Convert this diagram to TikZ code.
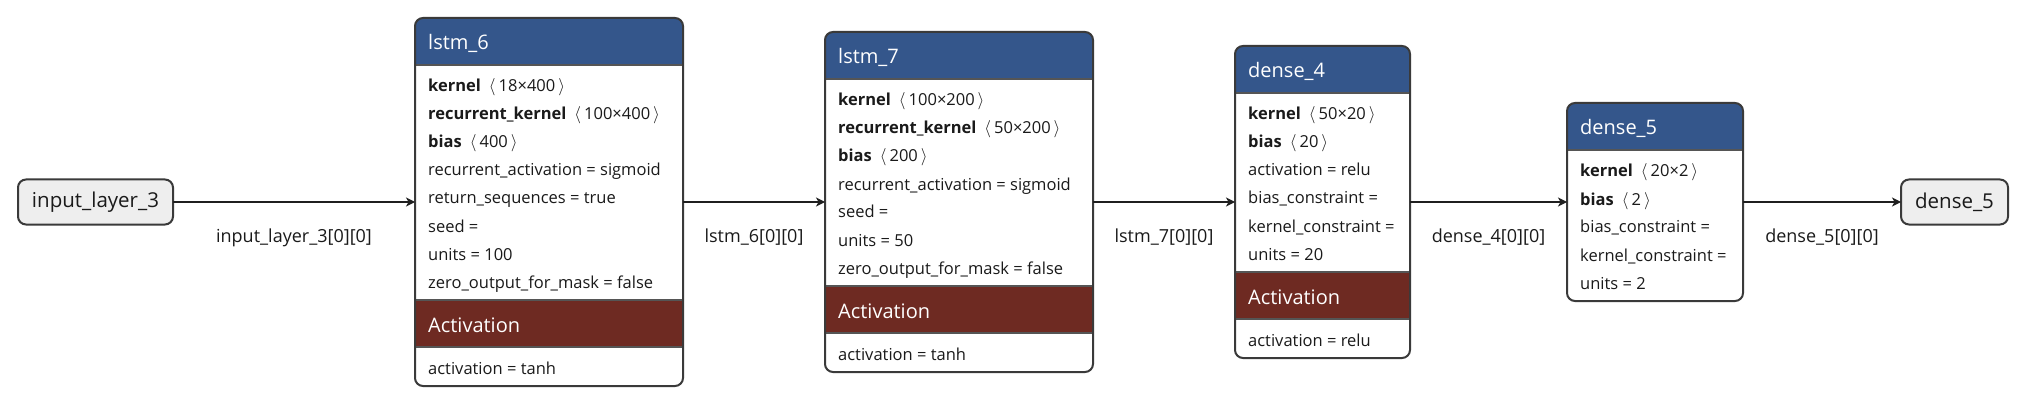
\documentclass[tikz,border=0pt]{standalone}
\usepackage{fontspec}
\setmainfont{Open Sans}
\usetikzlibrary{arrows.meta,calc}
\definecolor{hdrblue}{HTML}{34568B}
\definecolor{actred}{HTML}{6E2A22}
\definecolor{bordergray}{HTML}{3A3A3A}
\definecolor{sepgray}{HTML}{555555}
\definecolor{iofill}{HTML}{EEEEEE}
\definecolor{txt}{HTML}{1A1A1A}
\newcommand\fbody{\fontsize{16.5}{20}\selectfont}
\newcommand\fhead{\fontsize{20}{24}\selectfont}
\newcommand\fedge{\fontsize{18}{22}\selectfont}
\newcommand\fionode{\fontsize{20.5}{24}\selectfont}
\newcommand\shp[1]{\hspace{8pt}$\langle$\hspace{3pt}#1\hspace{3pt}$\rangle$}
\begin{document}
\begin{tikzpicture}[x=1pt,y=-1pt,
  lbox/.style={fill=white, inner sep=0pt, outer sep=0pt, rounded corners=8pt},
  border/.style={draw=bordergray, line width=2pt, rounded corners=8pt},
  sep/.style={draw=sepgray, line width=2pt},
  io/.style={draw=bordergray, line width=2pt, fill=iofill, rounded corners=8pt, inner sep=0pt, outer sep=0pt, minimum height=45pt, font=\fionode, text=txt},
  row/.style={anchor=base west, inner sep=0pt, font=\fbody, text=txt},
  ttl/.style={anchor=base west, inner sep=0pt, font=\fhead, text=white},
  flow/.style={draw=black!88, line width=2pt, -{Stealth[length=9pt,width=9pt,inset=2.5pt]}},
  elabel/.style={anchor=base, inner sep=0pt, font=\fedge, text=txt}]
\useasboundingbox[fill=white] (0,0) rectangle (2028,406);

% input / output nodes
\node[io, minimum width=155pt] (in3) at (95.5,202) {input\_layer\_3};
\node[io, minimum width=107pt] (out5) at (1954.5,202) {dense\_5};

% ---------- lstm_6 ----------
\node[lbox, minimum width=268pt, minimum height=368pt] (lstm6) at (549,202) {};
\begin{scope}
  \clip[rounded corners=8pt] (lstm6.north west) rectangle (lstm6.south east);
  \fill[hdrblue] (415,18) rectangle (683,65);
  \fill[actred] (415,300) rectangle (683,347);
\end{scope}
\draw[sep] (415,65) -- (683,65);
\draw[sep] (415,300) -- (683,300);
\draw[sep] (415,347) -- (683,347);
\draw[border] (lstm6.north west) rectangle (lstm6.south east);
\node[ttl] (t6) at (428,50) {lstm\_6};
\node[row] (l6a) at (428,92) {\textbf{kernel}\shp{18×400}};
\node[row] (l6b) at (428,120) {\textbf{recurrent\_kernel}\shp{100×400}};
\node[row] (l6c) at (428,148) {\textbf{bias}\shp{400}};
\node[row] (l6d) at (428,176) {recurrent\_activation = sigmoid};
\node[row] (l6e) at (428,204) {return\_sequences = true};
\node[row] (l6f) at (428,232) {seed =};
\node[row] (l6g) at (428,260) {units = 100};
\node[row] (l6h) at (428,288) {zero\_output\_for\_mask = false};
\node[ttl] (a6) at (428,332) {Activation};
\node[row] (l6i) at (428,374) {activation = tanh};

% ---------- lstm_7 ----------
\node[lbox, minimum width=268pt, minimum height=340pt] (lstm7) at (959,202) {};
\begin{scope}
  \clip[rounded corners=8pt] (lstm7.north west) rectangle (lstm7.south east);
  \fill[hdrblue] (825,32) rectangle (1093,79);
  \fill[actred] (825,286) rectangle (1093,333);
\end{scope}
\draw[sep] (825,79) -- (1093,79);
\draw[sep] (825,286) -- (1093,286);
\draw[sep] (825,333) -- (1093,333);
\draw[border] (lstm7.north west) rectangle (lstm7.south east);
\node[ttl] (t7) at (838,64) {lstm\_7};
\node[row] (l7a) at (838,106) {\textbf{kernel}\shp{100×200}};
\node[row] (l7b) at (838,134) {\textbf{recurrent\_kernel}\shp{50×200}};
\node[row] (l7c) at (838,162) {\textbf{bias}\shp{200}};
\node[row] (l7d) at (838,190) {recurrent\_activation = sigmoid};
\node[row] (l7e) at (838,218) {seed =};
\node[row] (l7f) at (838,246) {units = 50};
\node[row] (l7g) at (838,274) {zero\_output\_for\_mask = false};
\node[ttl] (a7) at (838,318) {Activation};
\node[row] (l7h) at (838,360) {activation = tanh};

% ---------- dense_4 ----------
\node[lbox, minimum width=175pt, minimum height=312pt] (d4) at (1322.5,202) {};
\begin{scope}
  \clip[rounded corners=8pt] (d4.north west) rectangle (d4.south east);
  \fill[hdrblue] (1235,46) rectangle (1410,93);
  \fill[actred] (1235,272) rectangle (1410,319);
\end{scope}
\draw[sep] (1235,93) -- (1410,93);
\draw[sep] (1235,272) -- (1410,272);
\draw[sep] (1235,319) -- (1410,319);
\draw[border] (d4.north west) rectangle (d4.south east);
\node[ttl] (t4) at (1248,78) {dense\_4};
\node[row] (d4a) at (1248,120) {\textbf{kernel}\shp{50×20}};
\node[row] (d4b) at (1248,148) {\textbf{bias}\shp{20}};
\node[row] (d4c) at (1248,176) {activation = relu};
\node[row] (d4d) at (1248,204) {bias\_constraint =};
\node[row] (d4e) at (1248,232) {kernel\_constraint =};
\node[row] (d4f) at (1248,260) {units = 20};
\node[ttl] (a4) at (1248,304) {Activation};
\node[row] (d4g) at (1248,346) {activation = relu};

% ---------- dense_5 ----------
\node[lbox, minimum width=176pt, minimum height=198pt] (d5) at (1655,202) {};
\begin{scope}
  \clip[rounded corners=8pt] (d5.north west) rectangle (d5.south east);
  \fill[hdrblue] (1567,103) rectangle (1743,150);
\end{scope}
\draw[sep] (1567,150) -- (1743,150);
\draw[border] (d5.north west) rectangle (d5.south east);
\node[ttl] (t5) at (1580,135) {dense\_5};
\node[row] (d5a) at (1580,177) {\textbf{kernel}\shp{20×2}};
\node[row] (d5b) at (1580,205) {\textbf{bias}\shp{2}};
\node[row] (d5c) at (1580,233) {bias\_constraint =};
\node[row] (d5d) at (1580,261) {kernel\_constraint =};
\node[row] (d5e) at (1580,289) {units = 2};

% ---------- connectors ----------
\draw[flow] (in3.east) -- (lstm6.west);
\draw[flow] (lstm6.east) -- (lstm7.west);
\draw[flow] (lstm7.east) -- (d4.west);
\draw[flow] (d4.east) -- (d5.west);
\draw[flow] (d5.east) -- (out5.west);

\node[elabel] (e1) at ($(in3.east)!0.5!(lstm6.west)+(0,40)$) {input\_layer\_3[0][0]};
\node[elabel] (e2) at ($(lstm6.east)!0.5!(lstm7.west)+(0,40)$) {lstm\_6[0][0]};
\node[elabel] (e3) at ($(lstm7.east)!0.5!(d4.west)+(0,40)$) {lstm\_7[0][0]};
\node[elabel] (e4) at ($(d4.east)!0.5!(d5.west)+(0,40)$) {dense\_4[0][0]};
\node[elabel] (e5) at ($(d5.east)!0.5!(out5.west)+(0,40)$) {dense\_5[0][0]};
\end{tikzpicture}
\end{document}
